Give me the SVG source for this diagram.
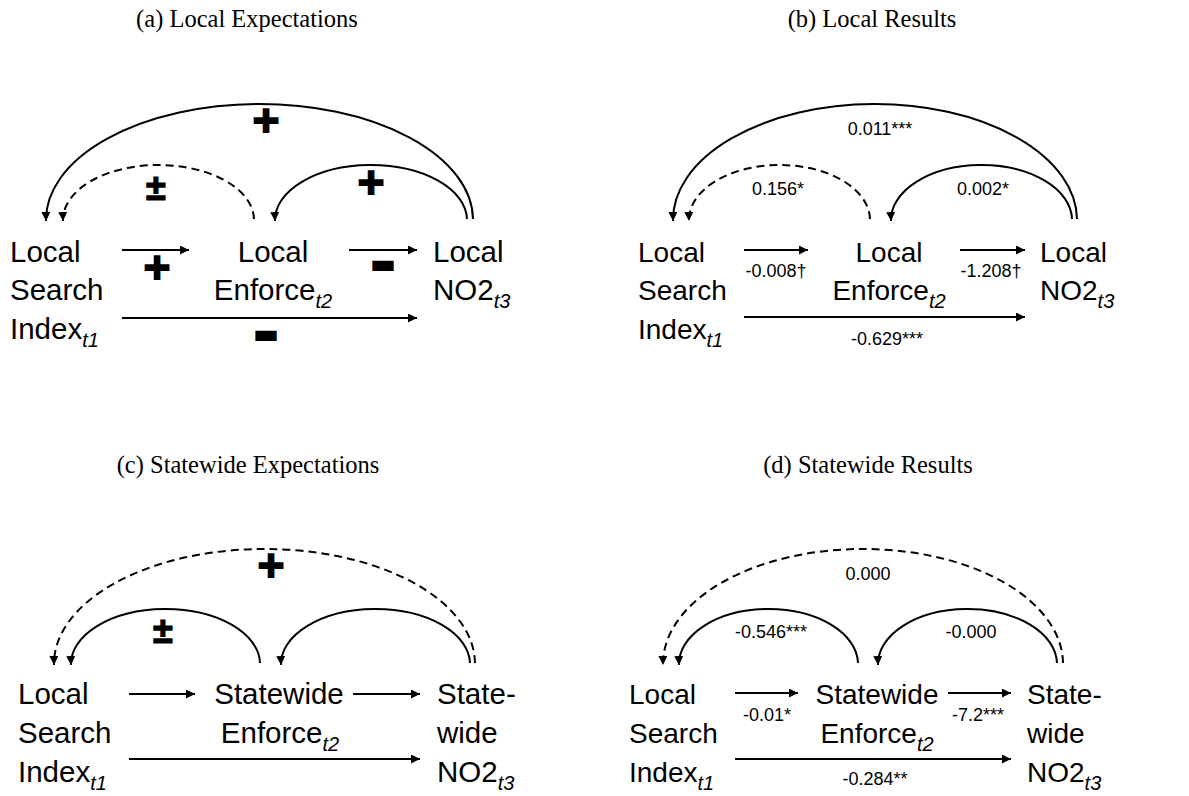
<svg xmlns="http://www.w3.org/2000/svg" width="1189" height="796" viewBox="0 0 1189 796">
<style>
.title{font-family:"Liberation Serif","DejaVu Serif",serif;font-size:24.5px;fill:#000;text-anchor:middle}
.nA{font-family:"Liberation Sans",Arial,sans-serif;font-size:29.5px;fill:#000}
.nB{font-family:"Liberation Sans",Arial,sans-serif;font-size:28px;fill:#000}
.mid{text-anchor:middle}
.sub{font-style:italic;font-size:20px}
.lbl{font-family:"Liberation Sans",Arial,sans-serif;font-size:18px;fill:#000;text-anchor:middle}
.sym{font-family:"DejaVu Sans",sans-serif;font-size:34px;fill:#000;text-anchor:middle}
.mn{font-family:"DejaVu Sans",sans-serif;font-size:28px;fill:#000;text-anchor:middle}
.pm{font-family:"Liberation Sans",Arial,sans-serif;font-weight:bold;font-size:36px;fill:#000;text-anchor:middle;stroke:#000;stroke-width:1.2}
.ln{fill:none;stroke:#000;stroke-width:2;marker-end:url(#ah)}
.ds{stroke-dasharray:8 5}
</style>
<defs>
<marker id="ah" viewBox="0 0 10 10" refX="10" refY="5" markerWidth="9" markerHeight="9" markerUnits="userSpaceOnUse" orient="auto"><path d="M0,0 L10,5 L0,10 z" fill="#000"/></marker>
</defs>
<rect width="1189" height="796" fill="#fff"/>
<g id="titles">
<text class="title" x="247" y="27">(a) Local Expectations</text>
<text class="title" x="872" y="27">(b) Local Results</text>
<text class="title" x="248" y="473">(c) Statewide Expectations</text>
<text class="title" x="868" y="473">(d) Statewide Results</text>
</g>
<!-- Panel a -->
<g id="a-search"><text class="nA" x="10" y="262">Local</text><text class="nA" x="10" y="300">Search</text><text class="nA" x="10" y="339">Index<tspan class="sub" dy="8">t1</tspan></text></g>
<g id="a-enforce"><text class="nA mid" x="273" y="262">Local</text><text class="nA mid" x="273" y="300">Enforce<tspan class="sub" dy="8">t2</tspan></text></g>
<g id="a-no2"><text class="nA" x="433" y="262">Local</text><text class="nA" x="433" y="300">NO2<tspan class="sub" dy="8">t3</tspan></text></g>
<!-- Panel b -->
<g id="b-search"><text class="nB" x="638" y="262">Local</text><text class="nB" x="638" y="300">Search</text><text class="nB" x="638" y="339">Index<tspan class="sub" dy="8">t1</tspan></text></g>
<g id="b-enforce"><text class="nB mid" x="889" y="262">Local</text><text class="nB mid" x="889" y="300">Enforce<tspan class="sub" dy="8">t2</tspan></text></g>
<g id="b-no2"><text class="nB" x="1040" y="262">Local</text><text class="nB" x="1040" y="300">NO2<tspan class="sub" dy="8">t3</tspan></text></g>
<!-- Panel c -->
<g id="c-search"><text class="nA" x="18" y="704">Local</text><text class="nA" x="18" y="743">Search</text><text class="nA" x="18" y="782">Index<tspan class="sub" dy="8">t1</tspan></text></g>
<g id="c-enforce"><text class="nA mid" x="279" y="704">Statewide</text><text class="nA mid" x="280" y="743">Enforce<tspan class="sub" dy="8">t2</tspan></text></g>
<g id="c-no2"><text class="nA" x="437" y="704">State-</text><text class="nA" x="437" y="743">wide</text><text class="nA" x="437" y="782">NO2<tspan class="sub" dy="8">t3</tspan></text></g>
<!-- Panel d -->
<g id="d-search"><text class="nB" x="629" y="704">Local</text><text class="nB" x="629" y="743">Search</text><text class="nB" x="629" y="782">Index<tspan class="sub" dy="8">t1</tspan></text></g>
<g id="d-enforce"><text class="nB mid" x="877" y="704">Statewide</text><text class="nB mid" x="877" y="743">Enforce<tspan class="sub" dy="8">t2</tspan></text></g>
<g id="d-no2"><text class="nB" x="1027" y="704">State-</text><text class="nB" x="1027" y="743">wide</text><text class="nB" x="1027" y="782">NO2<tspan class="sub" dy="8">t3</tspan></text></g>
<g id="connectors">
<!-- a -->
<line class="ln" x1="122" y1="250" x2="189" y2="250"/>
<line class="ln" x1="349" y1="250" x2="417" y2="250"/>
<line class="ln" x1="122" y1="318" x2="417" y2="318"/>
<path class="ln" d="M473,219 A213.5,116 0 0 0 46,221"/>
<path class="ln ds" d="M254,219 A95.5,55 0 0 0 63,221"/>
<path class="ln" d="M467,219 A96,55 0 0 0 275,221"/>
<!-- b -->
<line class="ln" x1="744" y1="250" x2="808" y2="250"/>
<line class="ln" x1="960" y1="250" x2="1025" y2="250"/>
<line class="ln" x1="744" y1="317" x2="1025" y2="317"/>
<path class="ln" d="M1077,219 A202,116 0 0 0 673,221"/>
<path class="ln ds" d="M870,219 A90.5,55 0 0 0 689,221"/>
<path class="ln" d="M1072,219 A90.5,55 0 0 0 891,221"/>
<!-- c -->
<line class="ln" x1="129" y1="694" x2="195" y2="694"/>
<line class="ln" x1="353" y1="694" x2="420" y2="694"/>
<line class="ln" x1="129" y1="759" x2="420" y2="759"/>
<path class="ln ds" d="M475,663 A210.5,115 0 0 0 54,665"/>
<path class="ln" d="M260,663 A94.5,55 0 0 0 71,665"/>
<path class="ln" d="M470,663 A94.5,55 0 0 0 281,665"/>
<!-- d -->
<line class="ln" x1="735" y1="693" x2="798" y2="693"/>
<line class="ln" x1="948" y1="693" x2="1011" y2="693"/>
<line class="ln" x1="735" y1="759" x2="1011" y2="759"/>
<path class="ln ds" d="M1063,663 A200,115 0 0 0 663,665"/>
<path class="ln" d="M858,663 A89.5,55 0 0 0 679,665"/>
<path class="ln" d="M1057,663 A89.5,55 0 0 0 878,665"/>
</g>
<g id="edge-labels">
<text class="sym" x="266" y="133">✚</text>
<text class="sym" x="371" y="195">✚</text>
<text class="pm" x="156" y="200">±</text>
<text class="sym" x="157" y="280">✚</text>
<text class="mn" x="383" y="273">▬</text>
<text class="mn" x="266" y="343">▬</text>
<text class="lbl" x="880" y="135">0.011***</text>
<text class="lbl" x="778" y="195">0.156*</text>
<text class="lbl" x="983" y="195">0.002*</text>
<text class="lbl" x="776" y="277">-0.008†</text>
<text class="lbl" x="991" y="277">-1.208†</text>
<text class="lbl" x="887" y="345">-0.629***</text>
<text class="sym" x="271" y="578">✚</text>
<text class="pm" x="163" y="643">±</text>
<text class="lbl" x="868" y="580">0.000</text>
<text class="lbl" x="771" y="638">-0.546***</text>
<text class="lbl" x="971" y="638">-0.000</text>
<text class="lbl" x="767" y="721">-0.01*</text>
<text class="lbl" x="978" y="721">-7.2***</text>
<text class="lbl" x="875" y="785">-0.284**</text>
</g>
</svg>
